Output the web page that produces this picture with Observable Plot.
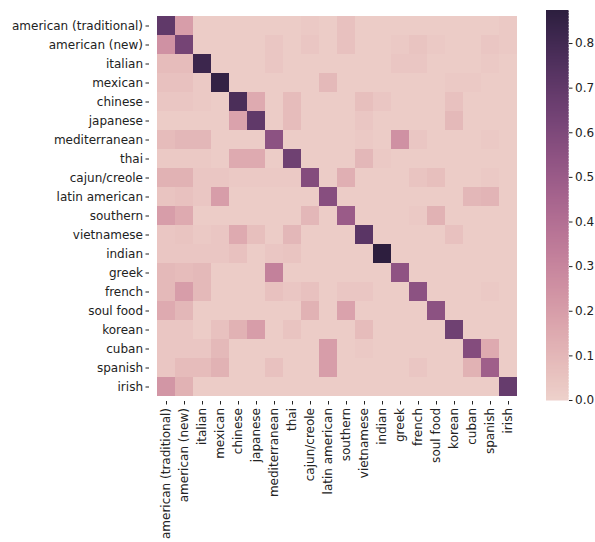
<!DOCTYPE html>
<html>
<head>
<meta charset="utf-8">
<script src="https://cdn.jsdelivr.net/npm/d3@7"></script>
<script src="https://cdn.jsdelivr.net/npm/@observablehq/plot@0.6"></script>
<style>
body { margin: 0; background: #fff; }
#wrap { position: relative; width: 595px; height: 542px; }
#wrap svg { position: absolute; left: 0; top: 0; }
</style>
</head>
<body>
<div id="wrap"></div>
<script>
const cuisines = ["american (traditional)", "american (new)", "italian", "mexican", "chinese", "japanese", "mediterranean", "thai", "cajun/creole", "latin american", "southern", "vietnamese", "indian", "greek", "french", "soul food", "korean", "cuban", "spanish", "irish"];

const rowAmericanTraditional = [0.70,0.20,0.02,0.02,0.02,0.02,0.02,0.02,0.03,0.02,0.06,0.02,0.02,0.02,0.02,0.02,0.02,0.02,0.02,0.03];
const rowAmericanNew        = [0.25,0.63,0.02,0.02,0.02,0.02,0.04,0.02,0.04,0.02,0.06,0.02,0.02,0.03,0.05,0.03,0.02,0.02,0.04,0.03];
const rowItalian            = [0.08,0.08,0.82,0.02,0.02,0.02,0.04,0.02,0.02,0.02,0.02,0.02,0.02,0.04,0.04,0.02,0.02,0.02,0.03,0.02];
const rowMexican            = [0.06,0.06,0.03,0.85,0.02,0.02,0.02,0.02,0.02,0.09,0.02,0.02,0.02,0.02,0.02,0.02,0.03,0.03,0.02,0.02];
const rowChinese            = [0.04,0.04,0.03,0.02,0.77,0.15,0.02,0.08,0.02,0.02,0.02,0.07,0.04,0.02,0.02,0.02,0.06,0.02,0.02,0.02];
const rowJapanese           = [0.02,0.02,0.02,0.02,0.18,0.70,0.02,0.08,0.02,0.02,0.02,0.04,0.02,0.02,0.02,0.02,0.09,0.02,0.02,0.02];
const rowMediterranean      = [0.08,0.10,0.10,0.02,0.02,0.02,0.55,0.02,0.02,0.02,0.02,0.03,0.02,0.25,0.04,0.02,0.02,0.02,0.03,0.02];
const rowThai               = [0.03,0.03,0.03,0.02,0.15,0.15,0.02,0.65,0.02,0.02,0.02,0.10,0.03,0.02,0.02,0.02,0.02,0.02,0.02,0.02];
const rowCajunCreole        = [0.12,0.12,0.04,0.04,0.03,0.03,0.03,0.03,0.58,0.02,0.13,0.02,0.02,0.02,0.05,0.07,0.02,0.02,0.03,0.02];
const rowLatinAmerican      = [0.05,0.06,0.04,0.20,0.02,0.02,0.02,0.02,0.02,0.57,0.02,0.02,0.02,0.02,0.02,0.02,0.02,0.10,0.11,0.02];
const rowSouthern           = [0.20,0.15,0.02,0.02,0.02,0.02,0.02,0.02,0.10,0.02,0.50,0.02,0.02,0.02,0.03,0.12,0.02,0.02,0.02,0.02];
const rowVietnamese         = [0.04,0.05,0.03,0.04,0.15,0.07,0.02,0.10,0.02,0.02,0.02,0.72,0.02,0.02,0.02,0.02,0.06,0.02,0.02,0.02];
const rowIndian             = [0.04,0.04,0.04,0.04,0.06,0.02,0.04,0.05,0.02,0.02,0.02,0.02,0.874,0.02,0.02,0.02,0.02,0.02,0.02,0.02];
const rowGreek              = [0.09,0.08,0.09,0.02,0.02,0.02,0.32,0.02,0.02,0.02,0.02,0.02,0.02,0.54,0.02,0.02,0.02,0.02,0.02,0.02];
const rowFrench             = [0.09,0.20,0.09,0.02,0.02,0.02,0.06,0.04,0.06,0.02,0.04,0.04,0.02,0.02,0.55,0.02,0.02,0.02,0.03,0.02];
const rowSoulFood           = [0.15,0.10,0.02,0.02,0.02,0.02,0.02,0.02,0.12,0.02,0.18,0.02,0.02,0.02,0.02,0.55,0.02,0.02,0.02,0.02];
const rowKorean             = [0.04,0.04,0.02,0.06,0.12,0.20,0.02,0.05,0.02,0.02,0.02,0.08,0.02,0.02,0.02,0.02,0.65,0.02,0.02,0.02];
const rowCuban              = [0.04,0.04,0.04,0.09,0.02,0.02,0.02,0.02,0.02,0.20,0.02,0.03,0.02,0.02,0.02,0.02,0.02,0.58,0.15,0.02];
const rowSpanish            = [0.04,0.08,0.08,0.12,0.02,0.02,0.06,0.02,0.02,0.20,0.02,0.02,0.02,0.02,0.04,0.02,0.02,0.12,0.48,0.02];
const rowIrish              = [0.23,0.12,0.02,0.02,0.02,0.02,0.02,0.02,0.02,0.02,0.02,0.02,0.02,0.02,0.02,0.02,0.02,0.02,0.02,0.68];

const colorTicks = [0.0, 0.1, 0.2, 0.3, 0.4, 0.5, 0.6, 0.7, 0.8];
const vmin = 0.0, vmax = 0.874;

const matrix = [rowAmericanTraditional, rowAmericanNew, rowItalian, rowMexican, rowChinese, rowJapanese, rowMediterranean, rowThai, rowCajunCreole, rowLatinAmerican, rowSouthern, rowVietnamese, rowIndian, rowGreek, rowFrench, rowSoulFood, rowKorean, rowCuban, rowSpanish, rowIrish];

const cells = [];
matrix.forEach((row, i) => row.forEach((v, j) => cells.push({row: cuisines[i], col: cuisines[j], value: v})));

// seaborn cubehelix_palette(as_cmap=True) default: start=0, rot=.4, hue=.8, light=.85, dark=.15
function cubehelix(t) {
  const x = 0.85 + (0.15 - 0.85) * t;
  const a = 0.8 * x * (1 - x) / 2;
  const phi = 2 * Math.PI * (0 + 0.4 * x);
  const c = Math.cos(phi), s = Math.sin(phi);
  const cl = v => Math.round(255 * Math.max(0, Math.min(1, v)));
  const r = x + a * (-0.14861 * c + 1.78277 * s);
  const g = x + a * (-0.29227 * c - 0.90649 * s);
  const b = x + a * (1.97294 * c);
  return `rgb(${cl(r)},${cl(g)},${cl(b)})`;
}

const font = "'DejaVu Sans', sans-serif";
const FS = "12px";
const W = 595, H = 542;

const heat = Plot.plot({
  width: W, height: H,
  marginLeft: 149, marginRight: 71, marginTop: 10, marginBottom: 141,
  style: {fontFamily: font, fontSize: FS, color: "#222", background: "transparent"},
  x: {domain: cuisines, padding: 0, label: null},
  y: {domain: cuisines, padding: 0, label: null},
  color: {type: "linear", domain: [vmin, vmax], interpolate: () => cubehelix, clamp: true},
  marks: [
    Plot.cell(cells, {x: "col", y: "row", fill: "value", inset: 0, shapeRendering: "crispEdges"}),
    Plot.axisX({ticks: cuisines, tickRotate: -90, tickSize: 3.5, tickPadding: 3, label: null, fontSize: FS}),
    Plot.axisY({ticks: cuisines, tickSize: 3.5, tickPadding: 3, label: null, fontSize: FS})
  ]
});

const rampSteps = d3.range(0, 256).map(k => ({v0: vmin + (vmax - vmin) * k / 256, v1: vmin + (vmax - vmin) * (k + 1) / 256}));

const bar = Plot.plot({
  width: W, height: H,
  marginLeft: 546, marginRight: 27, marginTop: 10, marginBottom: 142,
  style: {fontFamily: font, fontSize: FS, color: "#222", background: "transparent"},
  x: {domain: [0, 1], axis: null},
  y: {domain: [vmin, vmax], label: null},
  color: {type: "linear", domain: [vmin, vmax], interpolate: () => cubehelix},
  marks: [
    Plot.rect(rampSteps, {x1: 0, x2: 1, y1: "v0", y2: "v1", fill: d => (d.v0 + d.v1) / 2, shapeRendering: "crispEdges", stroke: d => (d.v0 + d.v1) / 2, strokeWidth: 0.5}),
    Plot.axisY({anchor: "right", ticks: colorTicks, tickFormat: d3.format(".1f"), tickSize: 3.5, tickPadding: 3, label: null, fontSize: FS})
  ]
});

const wrap = document.getElementById("wrap");
wrap.appendChild(heat);
wrap.appendChild(bar);
</script>
</body>
</html>
